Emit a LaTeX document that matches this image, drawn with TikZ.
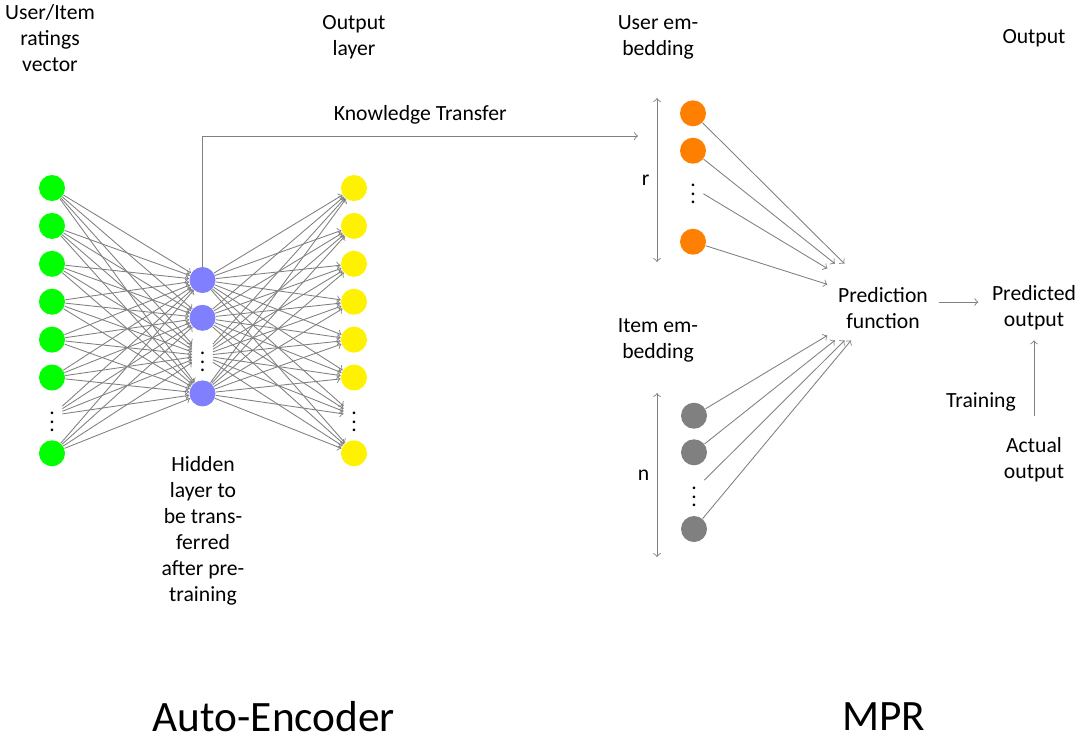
\documentclass[tikz,border=0pt]{standalone}
\usepackage{fontspec}
\setmainfont{Carlito}
\usepackage{tikz}
\tikzstyle{none}=[inner sep=0pt]
\tikzstyle{txt}=[inner sep=0pt, align=center]
\tikzstyle{big txt}=[inner sep=0pt, font=\fontsize{20}{24}\selectfont]
\tikzstyle{in neuron}=[circle, fill=green, minimum size=12pt, inner sep=0pt]
\tikzstyle{hid neuron}=[circle, fill=blue!50, minimum size=12pt, inner sep=0pt]
\tikzstyle{out neuron}=[circle, fill=yellow, minimum size=12pt, inner sep=0pt]
\tikzstyle{usr neuron}=[circle, fill=orange, minimum size=12pt, inner sep=0pt]
\tikzstyle{itm neuron}=[circle, fill=gray, minimum size=12pt, inner sep=0pt]
\tikzstyle{vdots}=[]
\tikzstyle{block}=[align=center, minimum width=51pt, minimum height=35pt]
\tikzstyle{arrow}=[->, draw=gray]
\tikzstyle{both}=[<->, draw=gray]
\newcommand{\topstrut}{\rule{0pt}{12.5pt}}

\begin{document}
\begin{tikzpicture}[x=0.4615pt, y=-0.4615pt]
  \useasboundingbox (0, 0) rectangle (1083, 742);
  % auto-encoder
  \node [style=in neuron] (0) at (52, 188) {};
  \node [style=in neuron] (1) at (52, 225.9) {};
  \node [style=in neuron] (2) at (52, 263.8) {};
  \node [style=in neuron] (3) at (52, 301.7) {};
  \node [style=in neuron] (4) at (52, 339.6) {};
  \node [style=in neuron] (5) at (52, 377.5) {};
  \node [style=vdots] (6) at (52, 415.4) {$\vdots$};
  \node [style=in neuron] (7) at (52, 453.3) {};
  \node [style=hid neuron] (8) at (202.5, 280) {};
  \node [style=hid neuron] (9) at (202.5, 317.8) {};
  \node [style=vdots] (10) at (202.5, 355.6) {$\vdots$};
  \node [style=hid neuron] (11) at (202.5, 393.4) {};
  \node [style=out neuron] (12) at (354, 188) {};
  \node [style=out neuron] (13) at (354, 225.9) {};
  \node [style=out neuron] (14) at (354, 263.8) {};
  \node [style=out neuron] (15) at (354, 301.7) {};
  \node [style=out neuron] (16) at (354, 339.6) {};
  \node [style=out neuron] (17) at (354, 377.5) {};
  \node [style=vdots] (18) at (354, 415.4) {$\vdots$};
  \node [style=out neuron] (19) at (354, 453.3) {};
  % MPR
  \node [style=usr neuron] (20) at (693, 113.3) {};
  \node [style=usr neuron] (21) at (693, 150.7) {};
  \node [style=vdots] (22) at (693, 187.5) {$\vdots$};
  \node [style=usr neuron] (23) at (693, 241.7) {};
  \node [style=itm neuron] (24) at (694, 415.7) {};
  \node [style=itm neuron] (25) at (694, 452.3) {};
  \node [style=vdots] (26) at (694, 490.5) {$\vdots$};
  \node [style=itm neuron] (27) at (694, 529) {};
  \node [style=block] (28) at (883, 302) {\topstrut Prediction\\function};
  \node [style=block] (29) at (1034, 302) {\topstrut Predicted\\output};
  \node [style=block] (30) at (1034, 454) {\topstrut Actual\\output};
  % labels
  \node [style=txt] (31) at (50, 38.5) {User/Item\\ratings\\vector};
  \node [style=txt] (32) at (354, 37) {Output\\layer};
  \node [style=txt] (33) at (658, 37) {User em-\\bedding};
  \node [style=txt] (34) at (1034, 38) {Output};
  \node [style=txt] (35) at (658, 340.5) {Item em-\\bedding};
  \node [style=txt] (36) at (203, 530.5) {Hidden\\layer to\\be trans-\\ferred\\after pre-\\training};
  \node [style=txt] (37) at (981, 401.5) {Training};
  \node [style=big txt] (38) at (274, 717) {Auto-Encoder};
  \node [style=big txt] (39) at (884, 717) {MPR};
  \coordinate (40) at (638, 136);
  \coordinate (41) at (657, 98);
  \coordinate (42) at (657, 262);
  \coordinate (43) at (657, 393);
  \coordinate (44) at (657, 557);
  \foreach \i in {0,...,7}
    \foreach \j in {8,...,11}
      \draw [style=arrow] (\i) to (\j);
  \foreach \j in {8,...,11}
    \foreach \k in {12,...,19}
      \draw [style=arrow] (\j) to (\k);
  \foreach \i in {20,...,27}
    \draw [style=arrow] (\i) to (28);
  \draw [style=arrow] (8) |- node [pos=0.75, above=2pt] (45) {Knowledge Transfer} (40);
  \draw [style=both] (41) to node [left] (46) {r} (42);
  \draw [style=both] (43) to node [left] (47) {n} (44);
  \draw [style=arrow] (28) to (29);
  \draw [style=arrow] (30) to (29);
\end{tikzpicture}
\end{document}
